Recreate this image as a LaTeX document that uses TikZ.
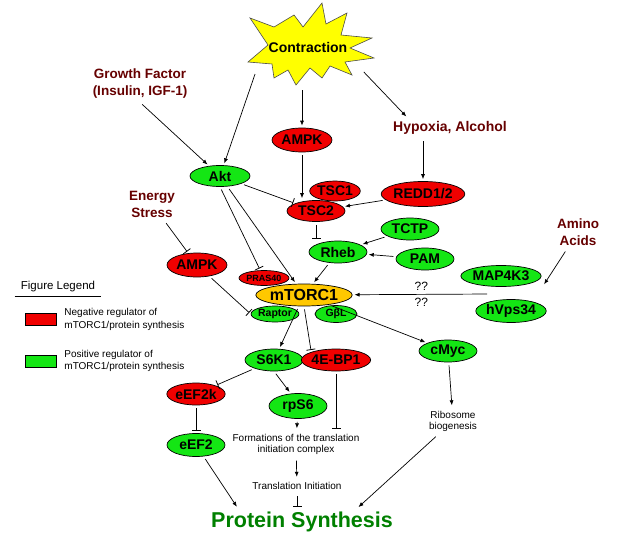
\documentclass[tikz,border=0pt]{standalone}
\usepackage{fontspec}
\setmainfont{Liberation Sans}
\usepackage{tikz}
\usetikzlibrary{arrows.meta,positioning,shapes.geometric}

\definecolor{negred}{RGB}{240,0,0}
\definecolor{posgreen}{RGB}{20,230,20}
\definecolor{mtorgold}{RGB}{255,200,0}
\definecolor{staryellow}{RGB}{255,255,0}
\definecolor{cuebrown}{RGB}{102,0,0}
\definecolor{outgreen}{RGB}{0,128,0}

\begin{document}
\begin{tikzpicture}[%
    x=1pt, y=-1pt,
    >={Latex[length=5pt,width=4pt]},
    on grid,
    every edge/.style={draw, line width=0.7pt, shorten <=3pt, shorten >=2pt},
    inhib/.style={-{Bar[width=9pt,line width=0.8pt]}},
    prot/.style={ellipse, draw, line width=0.7pt, inner sep=0pt,
        minimum width=58pt, minimum height=22pt,
        font=\bfseries\fontsize{14}{15}\selectfont},
    negreg/.style={prot, fill=negred},
    posreg/.style={prot, fill=posgreen},
    smallreg/.style={minimum width=46pt, minimum height=16pt,
        font=\bfseries\fontsize{10.5}{11}\selectfont},
    cue/.style={align=center, text=cuebrown, font=\bfseries\fontsize{13.5}{17}\selectfont},
    note/.style={align=center, font=\fontsize{10}{11}\selectfont},
    legbox/.style={draw, line width=0.8pt, inner sep=0pt,
        minimum width=31pt, minimum height=12pt}
    ]

    \useasboundingbox (0,0) rectangle (619,541);

    \draw[fill=staryellow, draw=black!70, line width=0.6pt]
        (250,18) -- (274,27) -- (294,15) -- (303,27) -- (322,3) -- (326,24)
        -- (347,13) -- (341,35) -- (372,38) -- (350,48) -- (374,58) -- (345,62)
        -- (352,75) -- (330,66) -- (322,78) -- (310,68) -- (296,85) -- (288,70)
        -- (274,78) -- (272,64) -- (248,62) -- (268,45) -- cycle;
    \node[ellipse, inner sep=0pt, minimum width=130pt, minimum height=80pt,
        font=\bfseries\fontsize{14}{15}\selectfont] (contr) at (308,47) {Contraction};

    \node[negreg, minimum width=60pt, minimum height=24pt] (ampkA) [below left=93pt and 6pt of contr] {AMPK};
    \node[posreg, minimum width=60pt, minimum height=21pt] (akt) [below left=36pt and 82pt of ampkA] {Akt};
    \node[cue] (growth) [above left=92pt and 80pt of akt] {Growth Factor\\(Insulin, IGF-1)};
    \node[cue, font=\bfseries\fontsize{14}{17}\selectfont] (hypox) [above right=12pt and 148pt of ampkA] {Hypoxia, Alcohol};
    \node[negreg, minimum width=69pt, minimum height=25pt] (redd) [below left=66pt and 27pt of hypox] {REDD1/2};
    \node[negreg, minimum width=48pt, minimum height=20pt] (tsc1) [below right=51pt and 33pt of ampkA] {TSC1};
    \node[negreg, minimum height=21pt] (tsc2) [below right=71pt and 14pt of ampkA] {TSC2};
    \node[posreg, minimum height=22pt] (rheb) [below right=41pt and 22pt of tsc2] {Rheb};
    \node[posreg] (tctp) [above right=23pt and 72pt of rheb] {TCTP};
    \node[posreg] (pam) [below right=7pt and 87pt of rheb] {PAM};
    \node[negreg, smallreg, minimum width=50pt, minimum height=15pt,
        font=\bfseries\fontsize{9}{10}\selectfont] (pras) [below right=102pt and 44pt of akt] {PRAS40};
    \node[prot, fill=mtorgold, minimum width=81pt, minimum height=22pt,
        font=\bfseries\fontsize{16}{17}\selectfont] (mtor) [below left=43pt and 34pt of rheb] {mTORC1};
    \node[posreg, smallreg, minimum width=43pt] (raptor) [below left=19pt and 29pt of mtor] {Raptor};
    \node[posreg, smallreg, minimum width=42pt, minimum height=17pt] (gbl) [below right=19pt and 32pt of mtor] {GβL};
    \node[negreg, minimum width=60pt, minimum height=24pt] (ampkB) [below left=89pt and 23pt of akt] {AMPK};
    \node[cue] (energy) [above left=61pt and 45pt of ampkB] {Energy\\Stress};
    \node[posreg, minimum height=23pt] (hvps) [below right=16pt and 207pt of mtor] {hVps34};
    \node[posreg, minimum width=60pt, minimum height=21pt] (map) [above left=35pt and 10pt of hvps] {MAP4K3};
    \node[cue] (amino) [above right=44pt and 77pt of map] {Amino\\Acids};
    \coordinate[above right=25pt and 32pt of hvps] (aaend);
    \coordinate[above left=17pt and 21pt of hvps] (vpsin);

    \node[posreg, minimum height=22pt] (s6k1) [below left=65pt and 30pt of mtor] {S6K1};
    \node[negreg, minimum height=22pt] (ebp) [right=62pt of s6k1] {4E-BP1};
    \node[posreg] (cmyc) [below right=56pt and 144pt of mtor] {cMyc};
    \node[note] (ribo) [below right=70pt and 5pt of cmyc] {Ribosome\\biogenesis};
    \node[negreg] (eef2k) [below left=34pt and 78pt of s6k1] {eEF2k};
    \node[posreg, minimum height=23pt] (eef2) [below=51pt of eef2k] {eEF2};
    \node[posreg, minimum height=25pt] (rps6) [below right=46pt and 24pt of s6k1] {rpS6};
    \node[note] (form) [below left=38pt and 2pt of rps6] {Formations of the translation\\initiation complex};
    \node[note] (trans) [below right=42pt and 1pt of form] {Translation Initiation};
    \node[text=outgreen, font=\bfseries\fontsize{21.5}{23}\selectfont] (protein) [below right=36pt and 5pt of trans] {Protein Synthesis};

    \node[font=\fontsize{11.5}{12}\selectfont, inner xsep=6pt] (legend) at (58,287) {Figure Legend};
    \draw[line width=0.7pt] (legend.south west) -- (legend.south east);
    \node[legbox, fill=negred] (legneg) [below left=32pt and 17pt of legend] {};
    \node[legbox, fill=posgreen] (legpos) [below=42pt of legneg] {};
    \node[note, align=left, anchor=west, font=\fontsize{10}{13}\selectfont] (legnegtxt) at ([xshift=4pt]legneg.east) {Negative regulator of\\mTORC1/protein synthesis};
    \node[note, align=left, anchor=west, font=\fontsize{10}{12}\selectfont] (legpostxt) at ([xshift=4pt]legpos.east) {Positive regulator of\\mTORC1/protein synthesis};

    \path[->] (contr.205) edge (akt);
    \path[->] (contr.south -| ampkA) edge (ampkA);
    \path[->] (contr.337) edge ([xshift=18pt]hypox.north west);
    \path[->] (growth.south) edge (akt);
    \path[->] (redd |- hypox.south) edge (redd);
    \path[->] (ampkA) edge (ampkA |- tsc2.north);
    \path[inhib] (akt) edge (tsc2);
    \path[->] (redd) edge (tsc2);
    \path[inhib] (tsc2) edge (tsc2 |- rheb.north);
    \path[->] (tctp) edge (rheb);
    \path[->] (pam) edge (rheb);
    \path[->] (rheb) edge (mtor);
    \path[inhib] (akt.south) edge (pras);
    \path[->] (akt) edge (mtor);
    \path[inhib] (energy) edge (ampkB);
    \path[inhib] (ampkB) edge (raptor.west);
    \path[->] (amino) edge (aaend);
    \path[->] (vpsin) edge node[above, font=\fontsize{12}{12}\selectfont] {??}
        node[below, font=\fontsize{12}{12}\selectfont] {??} (mtor);
    \path[->] (mtor) edge (s6k1);
    \path[inhib] (mtor.south) edge (ebp.north west);
    \path[->] (mtor) edge (cmyc);
    \path[inhib] (s6k1) edge (eef2k);
    \path[->] (s6k1.south) edge (rps6.120);
    \path[inhib] (eef2k) edge (eef2);
    \path[inhib] (ebp.south) edge (ebp.south |- form.north);
    \path[->] (rps6) edge (form);
    \path[->] (form) edge (trans);
    \path[inhib] (trans) edge (trans |- protein.north);
    \path[->] (eef2) edge ([xshift=-64pt]protein.north);
    \path[->] (cmyc) edge (ribo);
    \path[->] (ribo) edge ([xshift=55pt]protein.north);

\end{tikzpicture}
\end{document}
